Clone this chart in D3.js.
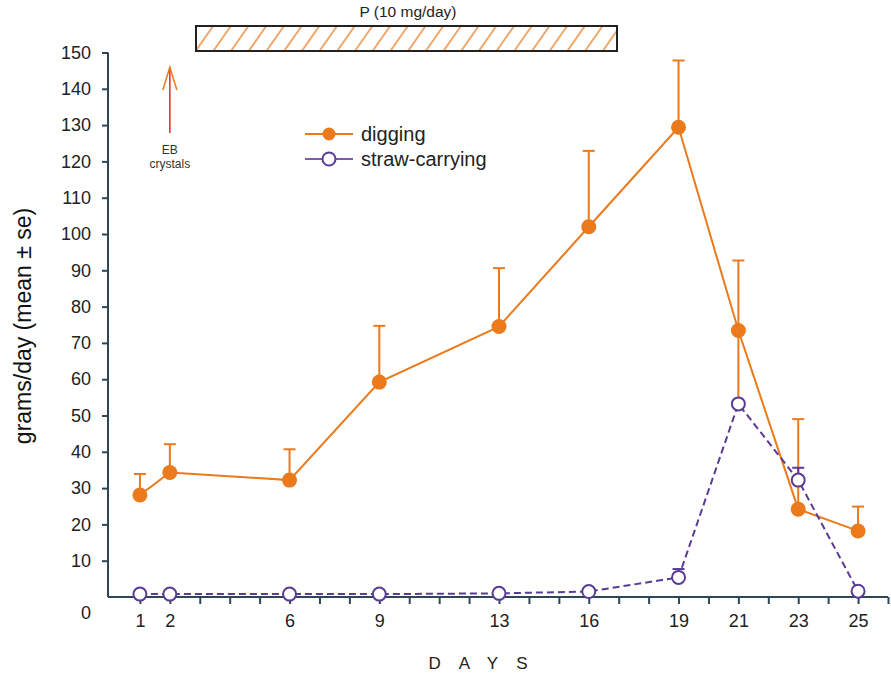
<!DOCTYPE html>
<html>
<head>
<meta charset="utf-8">
<script src="https://cdn.jsdelivr.net/npm/d3@7"></script>
<style>
  body { margin: 0; background: #fff; }
  svg { font-family: "Liberation Sans", Arial, sans-serif; }
</style>
</head>
<body>
<div id="chart"></div>
<script>
const width = 891,
      height = 674;

// values
const days = [1, 2, 6, 9, 13, 16, 19, 21, 23, 25];
const digging = [28.1, 34.3, 32.2, 59.2, 74.5, 102, 129.4, 73.4, 24.2, 18.2];
const diggingSE = [5.8, 7.8, 8.5, 15.5, 16.1, 20.9, 18.4, 19.3, 24.8, 6.7];
const diggingSELow = [0, 0, 0, 0, 0, 0, 0, 19.3, 0, 0];
const straw = [0.8, 0.8, 0.8, 0.8, 1.0, 1.5, 5.4, 53.2, 32.2, 1.6];
const strawSE = [0, 0, 0, 0, 0, 0, 2.3, 0, 3.4, 0];
const yTicks = d3.range(10, 151, 10);
const xTicks = d3.range(1, 27);
const labelledDays = days;

const orange = '#ea7a1c',
      purple = '#5a3b96',
      axisColor = '#2f4656';

const svg = d3.select('#chart').append('svg')
    .attr('width', width)
    .attr('height', height);

const xScale = d3.scaleLinear().domain([0, 26]).range([110, 888]),
      yScale = d3.scaleLinear().domain([0, 150]).range([597, 52.5]);

// hatch pattern for the P bar
const defs = svg.append('defs');
defs.append('pattern')
    .attr('id', 'hatch')
    .attr('patternUnits', 'userSpaceOnUse')
    .attr('width', 14.5)
    .attr('height', 14.5)
    .attr('patternTransform', 'rotate(35)')
  .append('line')
    .attr('x1', 1).attr('y1', 0)
    .attr('x2', 1).attr('y2', 14.5)
    .attr('stroke', orange)
    .attr('stroke-width', 1.3);

// y axis
const yAxis = svg.append('g')
    .attr('transform', 'translate(108,0)')
    .call(d3.axisLeft(yScale).tickValues(yTicks).tickSize(6).tickPadding(11).tickSizeOuter(0));
yAxis.select('.domain').attr('d', `M0,${yScale(150)}V${yScale(0)}`);
yAxis.selectAll('path, line').attr('stroke', axisColor).attr('stroke-width', 2);
yAxis.selectAll('text').attr('font-size', 18).attr('fill', '#222').attr('font-family', null);

svg.append('text')
    .attr('x', 91).attr('y', 613)
    .attr('dy', '0.35em')
    .attr('text-anchor', 'end')
    .attr('font-size', 18).attr('fill', '#222')
    .text('0');

// x axis
const xAxis = svg.append('g')
    .attr('transform', `translate(0,${yScale(0)})`)
    .call(d3.axisBottom(xScale).tickValues(xTicks).tickSize(7).tickPadding(10).tickSizeOuter(0)
      .tickFormat(d => labelledDays.includes(d) ? d : ''));
xAxis.select('.domain').attr('d', `M108,0H${xScale(26)}`);
xAxis.selectAll('path, line').attr('stroke', axisColor).attr('stroke-width', 2);
xAxis.selectAll('text').attr('font-size', 18).attr('fill', '#222').attr('font-family', null);

svg.append('text')
    .attr('x', 487).attr('y', 663)
    .attr('dy', '0.35em')
    .attr('text-anchor', 'middle')
    .attr('font-size', 17)
    .attr('letter-spacing', 18)
    .attr('fill', '#222')
    .text('DAYS');

svg.append('text')
    .attr('transform', 'translate(23,326) rotate(-90)')
    .attr('text-anchor', 'middle')
    .attr('dy', '0.35em')
    .attr('font-size', 23)
    .attr('fill', '#111')
    .text('grams/day (mean ± se)');

// P bar
svg.append('rect')
    .attr('x', 196).attr('y', 26)
    .attr('width', 421).attr('height', 25)
    .attr('fill', 'url(#hatch)')
    .attr('stroke', '#222')
    .attr('stroke-width', 2);
svg.append('text')
    .attr('x', 408).attr('y', 12)
    .attr('dy', '0.35em')
    .attr('text-anchor', 'middle')
    .attr('font-size', 15.5)
    .attr('fill', '#222')
    .text('P (10 mg/day)');

// EB crystals arrow
const ax = xScale(2);
svg.append('line')
    .attr('x1', ax).attr('y1', 133)
    .attr('x2', ax).attr('y2', 67)
    .attr('stroke', '#e3262a').attr('stroke-width', 1.5);
svg.append('path')
    .attr('d', `M${ax - 7},90L${ax},67L${ax + 7},90`)
    .attr('fill', 'none')
    .attr('stroke', orange).attr('stroke-width', 1.5);
svg.append('text')
    .attr('x', ax).attr('y', 150)
    .attr('dy', '0.35em').attr('text-anchor', 'middle')
    .attr('font-size', 12).attr('fill', '#333')
    .text('EB');
svg.append('text')
    .attr('x', ax).attr('y', 164)
    .attr('dy', '0.35em').attr('text-anchor', 'middle')
    .attr('font-size', 12).attr('fill', '#333')
    .text('crystals');

const dig = days.map((d, i) => ({ day: d, v: digging[i], se: diggingSE[i], lo: diggingSELow[i] }));
const str = days.map((d, i) => ({ day: d, v: straw[i], se: strawSE[i] }));

const line = d3.line().x(d => xScale(d.day)).y(d => yScale(d.v));

// digging error bars
const digErr = svg.append('g').attr('stroke', orange).attr('stroke-width', 2);
digErr.selectAll('.bar')
  .data(dig)
  .enter().append('line')
    .attr('x1', d => xScale(d.day)).attr('x2', d => xScale(d.day))
    .attr('y1', d => yScale(d.v - d.lo)).attr('y2', d => yScale(d.v + d.se));
digErr.selectAll('.cap')
  .data(dig)
  .enter().append('line')
    .attr('x1', d => xScale(d.day) - 6).attr('x2', d => xScale(d.day) + 6)
    .attr('y1', d => yScale(d.v + d.se)).attr('y2', d => yScale(d.v + d.se));

svg.append('path')
    .datum(dig)
    .attr('d', line)
    .attr('fill', 'none')
    .attr('stroke', orange)
    .attr('stroke-width', 2);

svg.append('path')
    .datum(str)
    .attr('d', line)
    .attr('fill', 'none')
    .attr('stroke', purple)
    .attr('stroke-width', 2)
    .attr('stroke-dasharray', '7,4');

// straw error bars
const strErr = svg.append('g').attr('stroke', purple).attr('stroke-width', 2);
strErr.selectAll('.bar')
  .data(str.filter(d => d.se > 0))
  .enter().append('line')
    .attr('x1', d => xScale(d.day)).attr('x2', d => xScale(d.day))
    .attr('y1', d => yScale(d.v)).attr('y2', d => yScale(d.v + d.se));
strErr.selectAll('.cap')
  .data(str.filter(d => d.se > 0))
  .enter().append('line')
    .attr('x1', d => xScale(d.day) - 6).attr('x2', d => xScale(d.day) + 6)
    .attr('y1', d => yScale(d.v + d.se)).attr('y2', d => yScale(d.v + d.se));

svg.append('g').selectAll('circle')
  .data(dig)
  .enter().append('circle')
    .attr('cx', d => xScale(d.day))
    .attr('cy', d => yScale(d.v))
    .attr('r', 7.5)
    .attr('fill', orange);

svg.append('g').selectAll('circle')
  .data(str)
  .enter().append('circle')
    .attr('cx', d => xScale(d.day))
    .attr('cy', d => yScale(d.v))
    .attr('r', 6.5)
    .attr('fill', '#fff')
    .attr('stroke', purple)
    .attr('stroke-width', 2);

// legend
const legend = svg.append('g');
const items = [
  { label: 'digging', color: orange, filled: true, y: 134 },
  { label: 'straw-carrying', color: '#7a5bb0', filled: false, y: 159 }
];
items.forEach(it => {
  legend.append('line')
      .attr('x1', 305).attr('x2', 353)
      .attr('y1', it.y).attr('y2', it.y)
      .attr('stroke', it.color).attr('stroke-width', 2);
  legend.append('circle')
      .attr('cx', 329).attr('cy', it.y)
      .attr('r', 6.5)
      .attr('fill', it.filled ? it.color : '#fff')
      .attr('stroke', it.filled ? 'none' : purple)
      .attr('stroke-width', 2);
  legend.append('text')
      .attr('x', 361).attr('y', it.y)
      .attr('dy', '0.35em')
      .attr('font-size', 20)
      .attr('fill', '#222')
      .text(it.label);
});
</script>
</body>
</html>
